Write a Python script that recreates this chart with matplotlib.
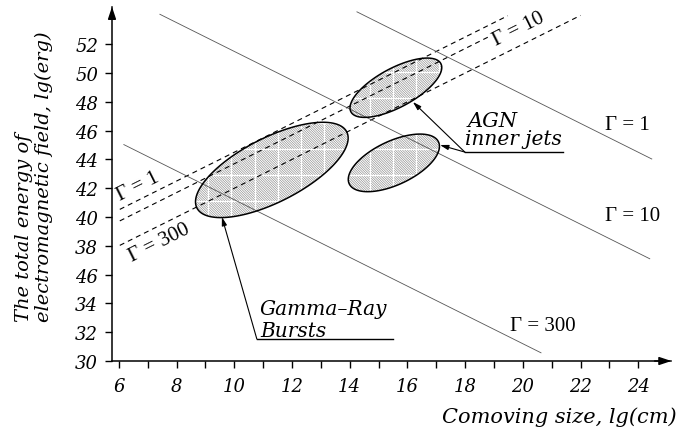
import numpy as np
import matplotlib
matplotlib.use('Agg')
import matplotlib.pyplot as plt
from matplotlib.patches import Polygon
from matplotlib.ticker import FixedLocator, FixedFormatter

# ---------------- data ----------------
x_major_ticks = [6, 8, 10, 12, 14, 16, 18, 20, 22, 24]
x_tick_labels = ['6', '8', '10', '12', '14', '16', '18', '20', '22', '24']
x_minor_ticks = [7, 9, 11, 13, 15, 17, 19, 21, 23]
y_ticks = [52, 50, 48, 46, 44, 42, 40, 38, 36, 34, 32, 30]
y_tick_labels = ['52', '50', '48', '46', '44', '42', '40', '38', '46', '34', '32', '30']

gamma_labels = ['\u0393 = 1', '\u0393 = 10', '\u0393 = 300']
# dashed lines: lg E = lg R + offset
dashed_offset = [34.5, 33.7, 32.0]
dashed_start = [6.03, 6.03, 6.03]
dashed_end = [19.48, 18.8, 22.0]
# solid lines: lg E = offset - lg R
solid_offset = [68.5, 61.5, 51.2]
solid_start = [14.25, 7.42, 6.17]
solid_end = [24.47, 24.4, 20.63]

# source regions (ellipses): centre, half-extent in x / y, tilt phase (deg)
region_names = ['Gamma-Ray Bursts', 'AGN jets (upper)', 'AGN jets (lower)']
region_cx = [11.3, 15.6, 15.53]
region_cy = [43.27, 48.98, 43.76]
region_rx = [2.645, 1.59, 1.58]
region_ry = [3.31, 2.06, 2.0]
region_phase = [48, 47, 55]

# ---------------- style ----------------
plt.rcParams['font.family'] = ['DejaVu Serif']
plt.rcParams['font.style'] = 'italic'
plt.rcParams['hatch.linewidth'] = 0.45
plt.rcParams['lines.scale_dashes'] = False

fig = plt.figure(figsize=(6.81, 4.35), dpi=100)
ax = fig.add_axes([112 / 681, 73 / 435, 559.4 / 681, 354.2 / 435])
ax.set_xlim(5.76, 25.15)
ax.set_ylim(30, 54.6)

for s in ['top', 'right']:
    ax.spines[s].set_visible(False)
for s in ['left', 'bottom']:
    ax.spines[s].set_linewidth(1.1)

ax.xaxis.set_major_locator(FixedLocator(x_major_ticks))
ax.xaxis.set_major_formatter(FixedFormatter(x_tick_labels))
ax.xaxis.set_minor_locator(FixedLocator(x_minor_ticks))
ax.yaxis.set_major_locator(FixedLocator(y_ticks))
ax.yaxis.set_major_formatter(FixedFormatter(y_tick_labels))
ax.tick_params(which='both', direction='out', length=5, width=1, labelsize=13)
ax.tick_params(axis='x', pad=6.5)
ax.tick_params(axis='y', pad=5)

# axis arrows
arrow_style = '-|>,head_length=0.6,head_width=0.2'
ax.annotate('', xy=(1.0, 0), xytext=(0.97, 0), xycoords='axes fraction',
            arrowprops=dict(arrowstyle=arrow_style, color='k', lw=1.1,
                            mutation_scale=12, shrinkA=0, shrinkB=0))
ax.annotate('', xy=(0, 1.0), xytext=(0, 0.97), xycoords='axes fraction',
            arrowprops=dict(arrowstyle=arrow_style, color='k', lw=1.1,
                            mutation_scale=12, shrinkA=0, shrinkB=0))

# ellipses
t = np.linspace(0, 2 * np.pi, 300)
for cx, cy, rx, ry, ph in zip(region_cx, region_cy, region_rx, region_ry, region_phase):
    ex = cx + rx * np.cos(t)
    ey = cy + ry * np.cos(t - np.radians(ph))
    pts = np.column_stack([ex, ey])
    fillp = Polygon(pts, closed=True, facecolor='white', edgecolor='#8a8a8a',
                    lw=0, hatch='\\' * 14, zorder=1)
    ax.add_patch(fillp)
    # white grid artefact inside the hatch
    gx = np.arange(5.9, 25, 0.8)
    gy = np.arange(30.3, 55, 1.8)
    vl = ax.vlines(gx, 30, 55, colors='white', lw=0.9, zorder=1.5)
    hl = ax.hlines(gy, 5, 26, colors='white', lw=0.9, zorder=1.5)
    vl.set_clip_path(fillp)
    hl.set_clip_path(fillp)
    ax.add_patch(Polygon(pts, closed=True, fill=False, edgecolor='k', lw=1.1, zorder=3))

# dashed lines
for off, x0, x1 in zip(dashed_offset, dashed_start, dashed_end):
    xs = np.array([x0, x1])
    ax.plot(xs, xs + off, color='k', lw=0.8, linestyle=(0, (3.6, 2.9)), zorder=2)

# solid lines
for off, x0, x1 in zip(solid_offset, solid_start, solid_end):
    xs = np.array([x0, x1])
    ax.plot(xs, off - xs, color='#555555', lw=0.6, zorder=2)

# rotation angle of slope +1 lines on screen
fig.canvas.draw()
p0 = ax.transData.transform((10, 40))
p1 = ax.transData.transform((11, 41))
ang = np.degrees(np.arctan2(p1[1] - p0[1], p1[0] - p0[0]))

gfont = dict(family='Liberation Serif', style='normal', fontsize=15)
# labels on dashed lines
ax.text(6.1, 6.1 + dashed_offset[0] + 0.3, gamma_labels[0], rotation=ang,
        rotation_mode='anchor', ha='left', va='bottom', **gfont)
ax.text(19.86, 53.05, gamma_labels[1], rotation=ang,
        rotation_mode='anchor', ha='center', va='center', **gfont)
ax.text(6.25, 6.25 + dashed_offset[2] - 0.45, gamma_labels[2], rotation=ang,
        rotation_mode='anchor', ha='left', va='top', **gfont)
# labels on solid lines
ax.text(22.85, 46.46, gamma_labels[0], ha='left', va='center', **gfont)
ax.text(22.85, 40.14, gamma_labels[1], ha='left', va='center', **gfont)
ax.text(19.55, 32.5, gamma_labels[2], ha='left', va='center', **gfont)

# annotations
ann_style = '-|>,head_length=0.5,head_width=0.15'
agn_anchor = (17.99, 44.51)
ax.plot([agn_anchor[0], 21.39], [agn_anchor[1], agn_anchor[1]], color='k', lw=1)
for tip in [(16.19, 47.99), (17.13, 45.0)]:
    ax.annotate('', xy=tip, xytext=agn_anchor,
                arrowprops=dict(arrowstyle=ann_style, color='k', lw=0.8,
                                mutation_scale=10, shrinkA=0, shrinkB=0))
ax.text(18.1, 46.3, 'AGN', fontsize=15, va='baseline', ha='left')
ax.text(17.98, 45.07, 'inner jets', fontsize=14.5, va='baseline', ha='left')

grb_anchor = (10.78, 31.53)
ax.plot([grb_anchor[0], 15.5], [grb_anchor[1], grb_anchor[1]], color='k', lw=1)
ax.annotate('', xy=(9.57, 40.0), xytext=grb_anchor,
            arrowprops=dict(arrowstyle=ann_style, color='k', lw=0.8,
                            mutation_scale=10, shrinkA=0, shrinkB=0))
ax.text(10.89, 33.26, 'Gamma\u2013Ray', fontsize=14.5, va='baseline', ha='left')
ax.text(10.89, 31.74, 'Bursts', fontsize=14.5, va='baseline', ha='left')

# axis titles
fig.text(677 / 681, (435 - 423) / 435, 'Comoving size, lg(cm)', fontsize=15,
         ha='right', va='baseline')
fig.text(34 / 681, (435 - 322) / 435, 'The total energy of\nelectromagnetic field, lg(erg)',
         fontsize=14, rotation=90, ha='center', va='bottom', multialignment='left',
         linespacing=1.1)

fig.savefig('out.png', dpi=100)
